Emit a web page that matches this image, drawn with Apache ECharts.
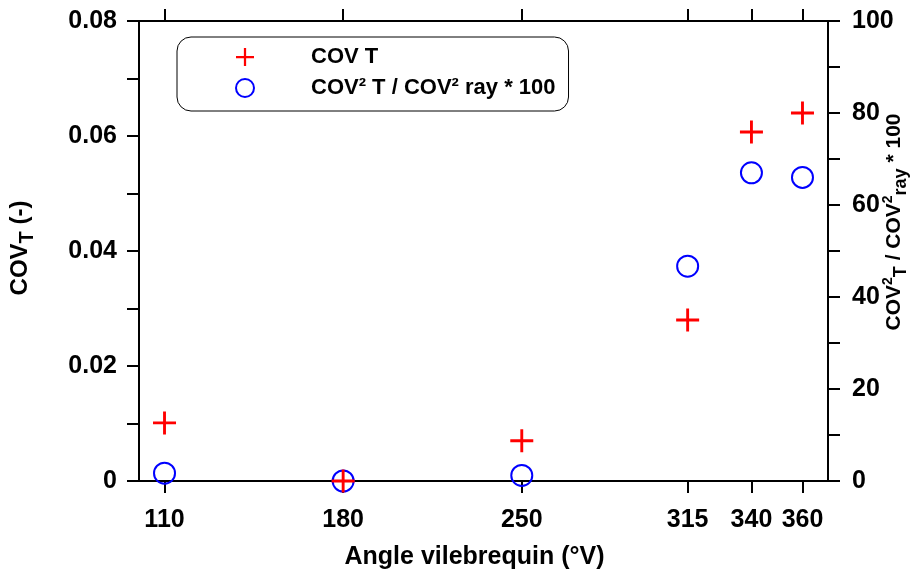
<!DOCTYPE html>
<html>
<head>
<meta charset="utf-8">
<script src="https://cdn.jsdelivr.net/npm/echarts@6/dist/echarts.min.js"></script>
<style>
html,body{margin:0;padding:0;background:#fff;}
#chart{width:916px;height:569px;}
</style>
</head>
<body>
<div id="chart"></div>
<script>
// Data
var angles = [110, 180, 250, 315, 340, 360];
var covT = [0.0101, 0.0, 0.0070, 0.0280, 0.0607, 0.0640];
var covRatio = [1.7, 0.0, 1.2, 46.7, 67.0, 66.0];
var xTicks = [110, 180, 250, 315, 340, 360];
var seriesNames = ['COV T', 'COV\u00b2 T / COV\u00b2 ray * 100'];

var FONT = '"Liberation Sans", Arial, sans-serif';
var plusPath = 'path://M0,10.5H24V13.5H0Z M10.5,0H13.5V24H10.5Z';

function pairs(xs, ys) { return xs.map(function (x, i) { return [x, ys[i]]; }); }

var chart = echarts.init(document.getElementById('chart'));
var axisLineStyle = { color: '#000', width: 2 };
var labelStyle = { color: '#000', fontSize: 25, fontWeight: 'bold', fontFamily: FONT };

chart.setOption({
  animation: false,
  backgroundColor: '#fff',
  grid: { left: 139, right: 88, top: 21, bottom: 88, containLabel: false, outerBoundsMode: 'none' },
  legend: {
    orient: 'vertical',
    left: 177,
    top: 37,
    padding: [9, 13, 12, 58],
    itemGap: 9,
    itemWidth: 18,
    itemHeight: 18,
    borderColor: '#000',
    borderWidth: 1,
    borderRadius: 14,
    data: seriesNames,
    textStyle: { color: '#000', fontSize: 22, fontWeight: 'bold', fontFamily: FONT, padding: [0, 0, 0, 52] }
  },
  xAxis: [{
    type: 'value', min: 100, max: 370, position: 'bottom',
    name: 'Angle vilebrequin (\u00b0V)', nameLocation: 'middle', nameGap: 64, nameMoveOverlap: false,
    nameTextStyle: { color: '#000', fontSize: 25, fontWeight: 'bold', fontFamily: FONT, padding: [0, 18, 0, 0] },
    axisLine: { show: true, onZero: false, lineStyle: axisLineStyle },
    axisTick: { show: true, inside: false, length: 12, lineStyle: axisLineStyle, customValues: xTicks },
    axisLabel: Object.assign({ margin: 27, customValues: xTicks }, labelStyle),
    splitLine: { show: false }
  }, {
    type: 'value', min: 100, max: 370, position: 'top',
    axisLine: { show: true, onZero: false, lineStyle: axisLineStyle },
    axisTick: { show: true, inside: false, length: 12, lineStyle: axisLineStyle, customValues: xTicks },
    axisLabel: { show: false },
    splitLine: { show: false }
  }],
  yAxis: [{
    type: 'value', min: 0, max: 0.08, interval: 0.01, position: 'left',
    name: '{a|COV}{s|T}{a| (-)}', nameLocation: 'middle', nameRotate: 90, nameGap: 102, nameMoveOverlap: false,
    nameTextStyle: {
      padding: [0, 0, 0, 6],
      rich: {
        a: { color: '#000', fontSize: 24, fontWeight: 'bold', fontFamily: FONT },
        s: { color: '#000', fontSize: 20, fontWeight: 'bold', fontFamily: FONT, padding: [14, 0, 0, 0] }
      }
    },
    axisLine: { show: true, onZero: false, lineStyle: axisLineStyle },
    axisTick: { show: true, inside: false, length: 12, lineStyle: axisLineStyle },
    axisLabel: Object.assign({
      margin: 22,
      formatter: function (v) { var k = Math.round(v * 100); return k % 2 === 0 ? (k === 0 ? '0' : (k / 100).toFixed(2)) : ''; }
    }, labelStyle),
    splitLine: { show: false }
  }, {
    type: 'value', min: 0, max: 100, interval: 10, position: 'right',
    name: '{a|COV}{p|2}{s|T}{a| / COV}{p|2}{s|ray}{a| * 100}', nameLocation: 'middle', nameRotate: 90, nameGap: 50, nameMoveOverlap: false,
    nameTextStyle: {
      padding: [0, 0, 0, 58],
      rich: {
        a: { color: '#000', fontSize: 21, fontWeight: 'bold', fontFamily: FONT },
        p: { color: '#000', fontSize: 14, fontWeight: 'bold', fontFamily: FONT, padding: [0, 0, 12, 0] },
        s: { color: '#000', fontSize: 18, fontWeight: 'bold', fontFamily: FONT, padding: [14, 0, 0, 0] }
      }
    },
    axisLine: { show: true, onZero: false, lineStyle: axisLineStyle },
    axisTick: { show: true, inside: false, length: 12, lineStyle: axisLineStyle },
    axisLabel: Object.assign({
      margin: 24,
      formatter: function (v) { return Math.round(v) % 20 === 0 ? String(Math.round(v)) : ''; }
    }, labelStyle),
    splitLine: { show: false }
  }],
  series: [{
    name: seriesNames[0], type: 'scatter', xAxisIndex: 0, yAxisIndex: 0,
    symbol: plusPath, symbolSize: 23,
    itemStyle: { color: '#ff0000', opacity: 1 },
    data: pairs(angles, covT), z: 3
  }, {
    name: seriesNames[1], type: 'scatter', xAxisIndex: 0, yAxisIndex: 1,
    symbol: 'circle', symbolSize: 21,
    itemStyle: { color: 'rgba(0,0,0,0)', borderColor: '#0000ff', borderWidth: 2, opacity: 1 },
    data: pairs(angles, covRatio), z: 2
  }]
});
</script>
</body>
</html>
